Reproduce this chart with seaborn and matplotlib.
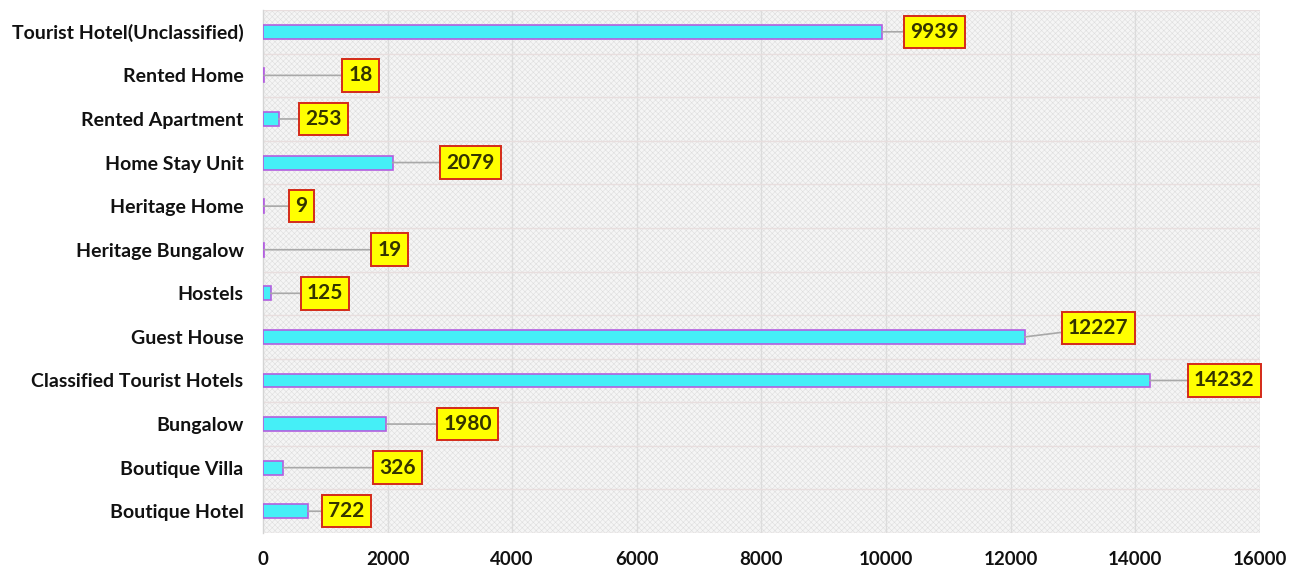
import matplotlib
matplotlib.use("Agg")
import matplotlib.pyplot as plt
import matplotlib.patches as mpatches
import seaborn as sns
import pandas as pd
import numpy as np

categories = [
    "Tourist Hotel(Unclassified)", "Rented Home", "Rented Apartment",
    "Home Stay Unit", "Heritage Home", "Heritage Bungalow", "Hostels",
    "Guest House", "Classified Tourist Hotels", "Bungalow",
    "Boutique Villa", "Boutique Hotel",
]
counts = [9939, 18, 253, 2079, 9, 19, 125, 12227, 14232, 1980, 326, 722]
x_ticks = [0, 2000, 4000, 6000, 8000, 10000, 12000, 14000, 16000]

# label callout offsets (pixels from bar end)
label_dx = [22, 78, 21, 48, 26, 107, 30, 37, 38, 51, 90, 14]
label_dy = [0, 0, 0, 0, 0, 0, 0, 9, 0, 0, 0, 0]

df = pd.DataFrame({"type": categories, "count": counts})

sns.set_theme(style="white")
plt.rcParams["font.family"] = ["Lato", "DejaVu Sans"]
plt.rcParams["hatch.linewidth"] = 0.4
plt.rcParams["hatch.color"] = "#d6d6d6"

fig = plt.figure(figsize=(13.07, 5.71), dpi=100)
ax = fig.add_axes([0.2012, 0.0665, 0.7628, 0.916])

ax.set_facecolor("#f5f5f5")
bg = mpatches.Rectangle((0, 0), 1, 1, transform=ax.transAxes, facecolor="none",
                        edgecolor="#dedede", hatch="xxxxxx", linewidth=0, zorder=0)
ax.add_patch(bg)

sns.barplot(data=df, x="count", y="type", orient="h", order=categories,
            color="#45eff7", edgecolor="#b35ee0", linewidth=1.2, width=0.32,
            saturation=1, ax=ax, zorder=3)

ax.set_xlim(0, 16000)
ax.set_ylim(len(categories) - 0.5, -0.5)
ax.set_xticks(x_ticks)
ax.set_xticklabels([str(t) for t in x_ticks], fontsize=13.5, fontweight="bold", color="#111111")
ax.set_yticks(range(len(categories)))
ax.set_yticklabels(categories, fontsize=14, fontweight="bold", color="#111111")
ax.tick_params(axis="x", length=0, pad=13)
ax.tick_params(axis="y", length=0, pad=14)
ax.set_xlabel("")
ax.set_ylabel("")

for x in x_ticks[1:]:
    ax.axvline(x, color="#dcdcdc", linewidth=1.0, zorder=1)
for b in np.arange(-0.5, len(categories), 1.0):
    ax.axhline(b, color="#e8dede", linewidth=1.0, zorder=1)

for s in ["top", "right", "bottom"]:
    ax.spines[s].set_visible(False)
ax.spines["left"].set_color("#d4d4d4")
ax.spines["left"].set_linewidth(1.0)

for i, (v, dx, dy) in enumerate(zip(counts, label_dx, label_dy)):
    ax.annotate(
        f"{v}", xy=(v, i), xytext=(dx + 6, dy), textcoords="offset pixels",
        ha="left", va="center", fontsize=15, fontweight="bold", color="#333300",
        bbox=dict(boxstyle="square,pad=0.3", facecolor="#ffff00", edgecolor="#d42a1a", linewidth=1.4),
        arrowprops=dict(arrowstyle="-", color="#a8a8a8", linewidth=1.2, shrinkA=0, shrinkB=0),
        zorder=5,
    )

fig.savefig("out.png", dpi=100)
